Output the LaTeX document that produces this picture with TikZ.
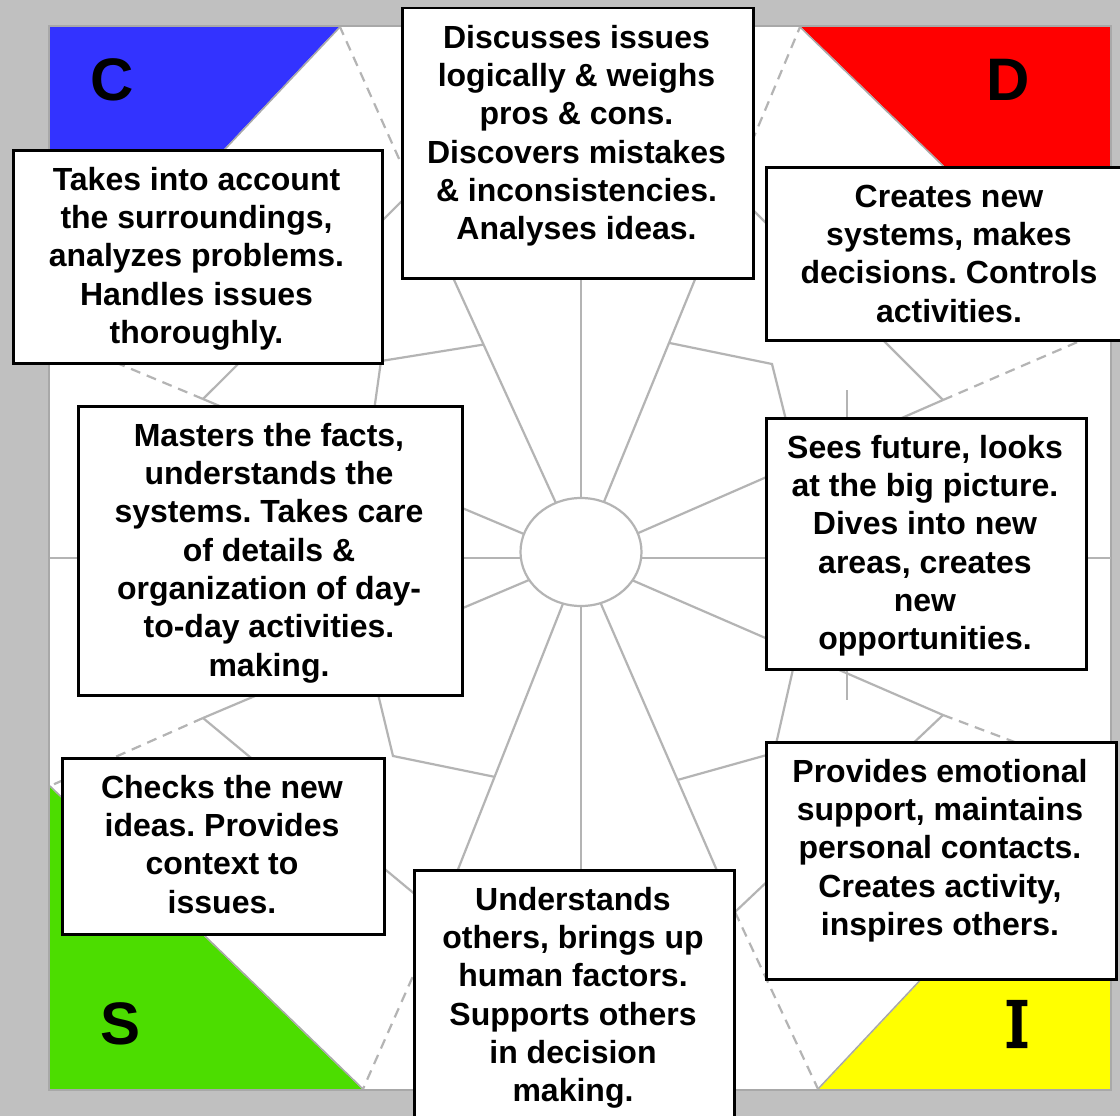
\documentclass[tikz,border=0pt]{standalone}
\usepackage{fontspec}
\setmainfont{Liberation Sans}
\newfontfamily\serifI{DejaVu Serif}[FakeBold=5]
\usetikzlibrary{shapes.geometric,calc}
\definecolor{bg}{HTML}{C0C0C0}
\definecolor{ln}{HTML}{B4B4B4}
\definecolor{edge}{HTML}{A8A8A8}
\definecolor{cblue}{HTML}{3333FF}
\definecolor{dred}{HTML}{FF0000}
\definecolor{sgreen}{HTML}{4CDD00}
\definecolor{iyellow}{HTML}{FFFF00}
\frenchspacing
\begin{document}
\begin{tikzpicture}[x=1pt,y=-1pt,
  spoke/.style={draw=ln, line width=2.2pt},
  dashline/.style={draw=ln, line width=2.2pt, dash pattern=on 10pt off 7pt},
  card/.style={draw=black, line width=2.5pt, fill=white, inner sep=0pt, anchor=north west},
  cardtext/.style={font=\fontsize{32}{38.3}\selectfont\bfseries, align=center, inner sep=0pt, anchor=north},
  letter/.style={font=\fontsize{60}{60}\selectfont\bfseries, inner sep=0pt}
]
\fill[bg] (0,0) rectangle (1120,1116);
\useasboundingbox (0,0) rectangle (1120,1116);
\clip (0,0) rectangle (1120,1116);

% white square
\fill[white] (49,26) rectangle (1111,1090);

% corner triangles
\fill[cblue] (49,26) -- (340,26) -- (49,335) -- cycle;
\fill[dred] (800,26) -- (1111,26) -- (1111,328) -- cycle;
\fill[iyellow] (818,1090) -- (1111,1090) -- (1111,778) -- cycle;
\fill[sgreen] (49,786) -- (49,1090) -- (363,1090) -- cycle;
\draw[edge, line width=1.5pt] (340,27) -- (50,335);
\draw[edge, line width=1.5pt] (800,27) -- (1110,328);
\draw[edge, line width=1.5pt] (818,1089) -- (1110,778);
\draw[edge, line width=1.5pt] (50,786) -- (363,1089);
\draw[edge, line width=2pt] (49,26) rectangle (1111,1090);

% key points
\coordinate (O) at (581,558);
\coordinate (JTL) at (413,190);
\coordinate (JTR) at (732,189);
\coordinate (JUL) at (203,399);
\coordinate (JUR) at (943,400);
\coordinate (JLL) at (203,718);
\coordinate (JLR) at (943,715);
\coordinate (JBL) at (440,915);
\coordinate (JBR) at (735,912);
\coordinate (cC) at (340,27);
\coordinate (cCb) at (50,335);
\coordinate (cD) at (800,27);
\coordinate (cDb) at (1110,328);
\coordinate (cIb) at (1110,778);
\coordinate (cI) at (818,1089);
\coordinate (cS) at (363,1089);
\coordinate (cSb) at (50,786);
\coordinate (Nt) at (581,26);
\coordinate (Sb) at (581,1090);
\coordinate (Ee) at (1111,558);
\coordinate (Ww) at (50,558);

% dashed outer lines
\draw[dashline] (JTL) -- (cC);
\draw[dashline] (JUL) -- (cCb);
\draw[dashline] (JTR) -- (cD);
\draw[dashline] (JUR) -- (cDb);
\draw[dashline] (JLR) -- (cIb);
\draw[dashline] (JBR) -- (cI);
\draw[dashline] (JBL) -- (cS);
\draw[dashline] (JLL) -- (cSb);

% spokes
\foreach \p in {Nt,Sb,Ee,Ww,JTL,JTR,JUL,JUR,JLL,JLR,JBL,JBR}
  \draw[spoke] (O) -- (\p);

% junction links
\draw[spoke] (JUL) -- (JTL);
\draw[spoke] (JUR) -- (JTR);
\draw[spoke] (JLL) -- (JBL);
\draw[spoke] (JLR) -- (JBR);

% ring chevrons
\draw[spoke, line join=miter] ($(O)!0.58!(JTL)$) -- (381,361) -- ($(O)!0.5685!(JUL)$);
\draw[spoke, line join=miter] ($(O)!0.566!(JLL)$) -- (393,756) -- ($(O)!0.613!(JBL)$);
\draw[spoke, line join=miter] ($(O)!0.583!(JTR)$) -- (772,364) -- ($(O)!0.5965!(JUR)$);
\draw[spoke, line join=miter] ($(O)!0.5966!(JLR)$) -- (774,753) -- ($(O)!0.627!(JBR)$);

% short vertical line on the right
\draw[spoke] (847,390) -- (847,700);

% hub
\node[ellipse, draw=ln, line width=2.2pt, fill=white, minimum width=121pt, minimum height=108pt, inner sep=0pt] (hub) at (581,552) {};

% letters
\node[letter] (lC) at (112,80) {C};
\node[letter] (lD) at (1008,80) {D};
\node[letter] (lS) at (121,1024) {S};
\node[font=\serifI\fontsize{62}{62}\selectfont, inner sep=0pt] (lI) at (1017,1024) {I};

% boxes
\node[card, minimum width=351pt, minimum height=270pt] (b1) at (401,7) {};
\node[card, minimum width=369pt, minimum height=213pt] (b2) at (12,149) {};
\node[card, minimum width=368pt, minimum height=173pt] (b3) at (765,166) {};
\node[card, minimum width=384pt, minimum height=289pt] (b4) at (77,405) {};
\node[card, minimum width=320pt, minimum height=251pt] (b5) at (765,417) {};
\node[card, minimum width=322pt, minimum height=176pt] (b6) at (61,757) {};
\node[card, minimum width=320pt, minimum height=280pt] (b7) at (413,869) {};
\node[card, minimum width=350pt, minimum height=237pt] (b8) at (765,741) {};

% texts
\node[cardtext] (t1) at (576.5,24) {\rule{0pt}{24pt}Discusses issues\\logically \& weighs\\pros \& cons.\\Discovers mistakes\\\& inconsistencies.\\Analyses ideas.};
\node[cardtext] (t2) at (196.5,166) {\rule{0pt}{24pt}Takes into account\\the surroundings,\\analyzes problems.\\Handles issues\\thoroughly.};
\node[cardtext] (t3) at (949,183) {\rule{0pt}{24pt}Creates new\\systems, makes\\decisions. Controls\\activities.};
\node[cardtext] (t4) at (269,422) {\rule{0pt}{24pt}Masters the facts,\\understands the\\systems. Takes care\\of details \&\\organization of day-\\to-day activities.\\making.};
\node[cardtext] (t5) at (925,434) {\rule{0pt}{24pt}Sees future, looks\\at the big picture.\\Dives into new\\areas, creates\\new\\opportunities.};
\node[cardtext] (t6) at (222,774) {\rule{0pt}{24pt}Checks the new\\ideas. Provides\\context to\\issues.};
\node[cardtext] (t7) at (573,886) {\rule{0pt}{24pt}Understands\\others, brings up\\human factors.\\Supports others\\in decision\\making.};
\node[cardtext] (t8) at (940,758) {\rule{0pt}{24pt}Provides emotional\\support, maintains\\personal contacts.\\Creates activity,\\inspires others.};
\end{tikzpicture}
\end{document}
